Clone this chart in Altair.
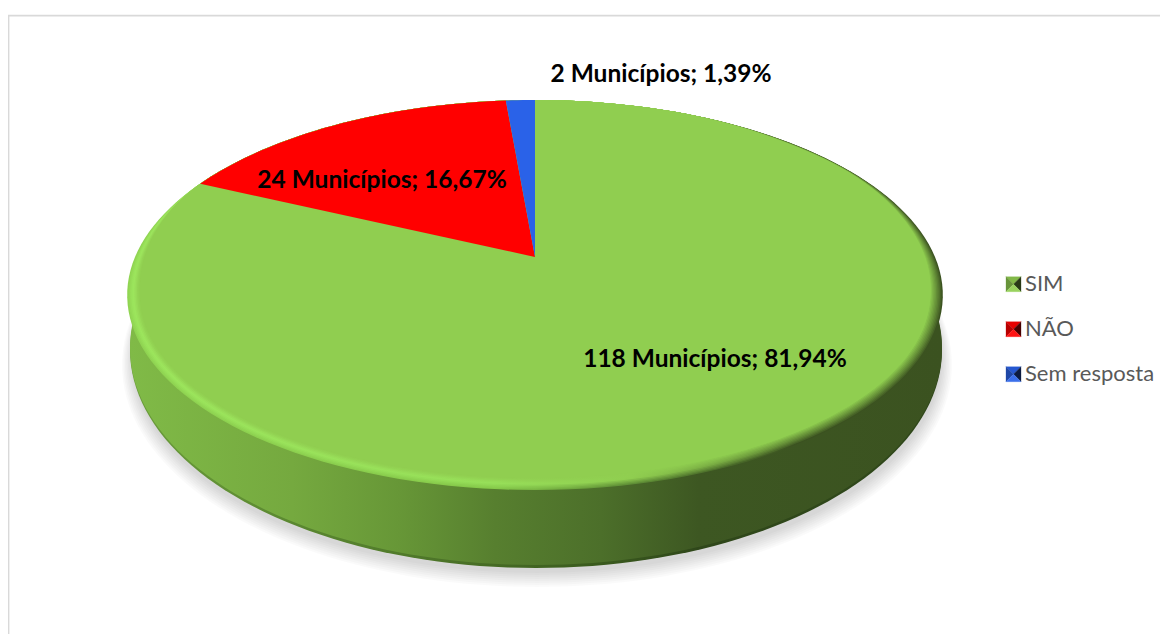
import math
import altair as alt

# ---------- data ----------
categories = ["SIM", "NÃO", "Sem resposta"]
municipios = [118, 24, 2]
colors = ["#90CE50", "#FF0000", "#2A62E8"]
wall_stops = [(0.0, "#80BA47"), (0.2, "#75A93F"), (0.33, "#679737"), (0.45, "#577F2F"),
              (0.58, "#4C6F2A"), (0.7, "#3D5722"), (1.0, "#3B5220")]
wall_dark_stops = [(0.0, "#6A9C3A"), (0.33, "#517B2B"), (0.58, "#3A5A1E"), (0.7, "#2F471A"), (1.0, "#2F471A")]

W, H = 1152, 626
total = sum(municipios)


def smooth(a, b, v):
    t = max(0.0, min(1.0, (v - a) / (b - a)))
    return t * t * (3 - 2 * t)


def rim(theta_deg):
    t = ((theta_deg + 180) % 360) - 180
    if t >= 0:
        return 0.12 * smooth(25, 50, t) + 0.88 * smooth(55, 110, t)
    return smooth(62, 105, -t)


def proj(theta_deg, s=1.0):
    # pie plane seen in perspective: apex at (535, 257)
    th = math.radians(theta_deg)
    k, rxp, ryp = 0.195, 400.0, 187.6
    d = 1 + k * math.cos(th)
    x = 535 + rxp * math.sin(th) / d
    y = 257 - ryp * math.cos(th) / d
    w = rim(theta_deg) * s
    return [535 + (x - 535) * (1 - w * 13 / 408), 295 + (y - 295) * (1 - w * 12 / 195)]


def feature(coords, **props):
    return {"type": "Feature", "properties": props, "geometry": {"type": "Polygon", "coordinates": [coords]}}


def ellipse(cx, cy, rx, ry):
    pts = [[cx + rx * math.cos(math.radians(a)), cy + ry * math.sin(math.radians(a))] for a in range(0, 360, 2)]
    return pts + [pts[0]]


def outline(s):
    pts = [proj(a, s) for a in range(0, 360, 2)]
    return pts + [pts[0]]


def grad(stops):
    return alt.Gradient(gradient="linear", x1=0, x2=1, y1=0, y2=0,
                        stops=[alt.GradientStop(color=c, offset=o) for o, c in stops])


def mix(c1, c2, f):
    a = [int(c1[i:i + 2], 16) for i in (1, 3, 5)]
    b = [int(c2[i:i + 2], 16) for i in (1, 3, 5)]
    return "#" + "".join(f"{round(p + (q - p) * f):02X}" for p, q in zip(a, b))


def shape(feat, **mark):
    return alt.Chart(alt.Data(values=[feat])).mark_geoshape(**mark)


layers = []

# chart border
border = {"type": "Feature", "properties": {},
          "geometry": {"type": "LineString", "coordinates": [[8.5, 640], [8.5, 15.7], [1175, 15.7]]}}
layers.append(shape(border, filled=False, stroke="#D9D9D9", strokeWidth=1.8))

# soft shadow
for i in range(8):
    f = i / 7
    layers.append(shape(feature(ellipse(537, 365 - 7 * f, 415 - 10 * f, 222 - 7 * f)),
                        fill="#000000", fillOpacity=0.018, stroke=None))

# side wall
layers.append(shape(feature(ellipse(536, 350, 406, 218)), fill=grad(wall_dark_stops), stroke=None))
layers.append(shape(feature(ellipse(536, 348, 406, 217)), fill=grad(wall_stops), stroke=None))

# bevelled rim, from the outer edge inwards
flat = colors[0]
edge_left, edge_mid, edge_right = "#90D452", "#86C94A", "#3B5220"
rim_left, rim_mid = "#9EE85E", "#98E25A"
N = 10
for i in range(N):
    f = i / (N - 1)
    up = min(1, f * 2.2)
    down = smooth(0.3, 1.0, f)
    stops = [(0.0, mix(mix(edge_left, rim_left, up), flat, down)),
             (0.45, mix(mix(edge_mid, rim_mid, up), flat, down)),
             (0.62, mix("#5F8E36", flat, min(1, f * 2.2))),
             (0.82, mix(edge_right, flat, f ** 0.9)),
             (1.0, mix(edge_right, flat, f ** 0.9))]
    layers.append(shape(feature(outline(f)), fill=grad(stops), stroke=None))

# pie sectors
features = []
a0 = 0.0
for name, n in zip(categories, municipios):
    a1 = a0 + 360 * n / total
    steps = max(2, int(a1 - a0))
    arc = [proj(a0 + (a1 - a0) * j / steps, 1.0) for j in range(steps + 1)]
    features.append(feature([[535, 257]] + arc + [[535, 257]], name=name))
    a0 = a1

layers.append(
    alt.Chart(alt.Data(values=features)).mark_geoshape(stroke=None).encode(
        color=alt.Color("properties.name:N",
                        scale=alt.Scale(domain=categories, range=colors),
                        legend=alt.Legend(title=None, orient="none", legendX=994, legendY=265,
                                          symbolType="square", symbolSize=225, symbolStrokeWidth=0,
                                          symbolOpacity=0,
                                          labelFont="Lato", labelFontSize=22, labelColor="#595959",
                                          rowPadding=23, labelOffset=1, padding=0))))

# pyramid-shaded legend keys
for cy, col in zip((284.2, 329.2, 374.2), colors):
    l, r, t, b = 1006, 1021, cy - 7.5, cy + 7.5
    c = [1013.5, cy]
    for tri, fill in [([[l, t], [r, t], c], mix(col, "#000000", 0.1)),
                      ([[l, t], c, [l, b]], mix(col, "#000000", 0.28)),
                      ([[r, t], [r, b], c], mix(col, "#000000", 0.72)),
                      ([[l, b], c, [r, b]], mix(col, "#FFFFFF", 0.08))]:
        layers.append(shape(feature(tri + [tri[0]]), fill=fill, stroke=fill, strokeWidth=0.3))

# labels
label_pos = [(715, 360, 24.5), (382, 181, 24.5), (661, 75, 24.5)]
for n, (x, y, size) in zip(municipios, label_pos):
    txt = f"{n} Municípios; {100 * n / total:.2f}%".replace(".", ",")
    layers.append(
        alt.Chart(alt.Data(values=[{"label": txt}])).mark_text(
            font="Lato", fontSize=size, fontWeight="bold", color="#000000",
            align="center", baseline="middle").encode(
            x=alt.value(x - 8), y=alt.value(y - 8), text="label:N"))

chart = alt.layer(*layers).properties(
    width=W, height=H, padding=0,
    autosize=alt.AutoSizeParams(type="none"),
    background="#FFFFFF",
    projection=alt.Projection(type="identity", scale=1, translate=[-8, -8]),
).configure_view(stroke=None)

chart.save("out.html", embed_options={"renderer": "svg", "actions": False})
